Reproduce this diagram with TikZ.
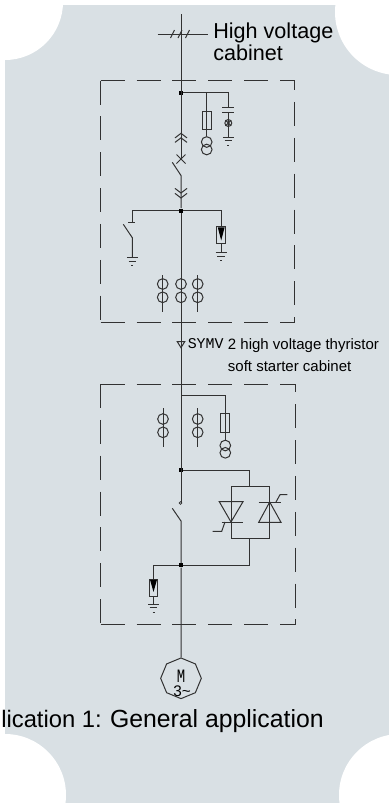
\documentclass[tikz,border=0pt]{standalone}
\usepackage{fontspec}
\setmainfont{Liberation Sans}
\newfontfamily\symvfont{Liberation Mono}
\usetikzlibrary{shapes.geometric}
\definecolor{panel}{RGB}{217,224,228}
\definecolor{wire}{RGB}{50,50,50}
\newcommand{\earth}[1]{\draw[wire] (#1) ++(-5.5,0) -- ++(11,0) (#1) ++(-3.8,3.9) -- ++(7.6,0) (#1) ++(-1,8) -- ++(2,0);}
\begin{document}
\begin{tikzpicture}
[
x=0.75pt, y=-0.75pt,
wire/.style={draw=wire, line width=0.75pt},
boxdash/.style={draw=wire, line width=0.75pt, dash pattern=on 18pt off 8.9pt},
dot/.style={rectangle, fill=black, inner sep=0pt, minimum size=3pt},
fuse/.style={rectangle, draw=wire, line width=0.75pt, inner sep=0pt, minimum width=7pt, minimum height=14pt},
arrester/.style={rectangle, draw=wire, line width=0.75pt, inner sep=0pt, minimum width=6.6pt, minimum height=12.5pt},
ring/.style={circle, draw=wire, line width=0.75pt, inner sep=0pt, minimum size=8pt},
label/.style={inner sep=0pt, anchor=base west, text=black}
]
\useasboundingbox (0,0) rectangle (389,804);

% panel
\begin{scope}
\clip (0,0) rectangle (389,804);
\fill[panel] (5,5) rectangle (389,803);
\fill[white] (5,2) circle (58) (398,12) circle (63) (5,795) circle (61) (400,795) circle (61);
\end{scope}

% incoming line
\coordinate (top) at (181,14);
\coordinate (busl) at (157.5,34);
\coordinate (busr) at (207.5,34);
\coordinate (cross) at (181,159);
\node[dot] (j1) at (181,92.5) {};
\node[dot] (j2) at (181,210.5) {};
\draw[wire] (busl) -- (busr);
\draw[wire] (top) -- (cross);
\foreach \x in {172.5,180,187.5}
	\draw[wire] (\x,34) ++(-2,4) -- ++(4,-8);
\node[label, align=left, font=\fontsize{16.2}{16.5}\selectfont] (hv) at (213,60) {High voltage\\cabinet};

% first cabinet
\coordinate (atl) at (100.7,80.5);
\coordinate (atr) at (294.5,80.5);
\coordinate (abr) at (294.5,322);
\coordinate (abl) at (100.7,322);
\draw[boxdash] (atl) -- (atr) -- (abr);
\draw[boxdash] (atl) -- (abl);
\draw[boxdash] (abl) -- (abr);

\foreach \y in {133.3,137.8}
	\draw[wire] (181,\y) ++(-6,4.6) -- ++(6,-4.6) -- ++(6,4.6);
\draw[wire] (cross) ++(-4.5,-4.5) -- ++(9,9) (cross) ++(-4.5,4.5) -- ++(9,-9);
\coordinate (bladea) at (172.3,162.3);
\coordinate (bladeb) at (181,175.5);
\draw[wire] (bladea) -- (bladeb) -- (j2);
\foreach \y in {193,198}
	\draw[wire] (181,\y) ++(-6,-4.6) -- ++(6,4.6) -- ++(6,-4.6);

\node[fuse] (fa) at (206.7,120.5) {};
\node[ring] (ta) at (206.7,142) {};
\node[ring] (tb) at (206.7,149.5) {};
\coordinate (capj) at (228.3,92.5);
\coordinate (capa) at (228.3,107);
\coordinate (capb) at (228.3,112);
\coordinate (ea) at (228.3,137);
\node[circle, draw=wire, line width=0.75pt, inner sep=0pt, minimum size=5.2pt] (lamp) at (228.3,123) {};
\draw[wire] (j1) -- (capj) -- (capa);
\draw[wire] (capb) -- (ea);
\draw[wire] (capa) ++(-6,0) -- ++(12,0) (capb) ++(-6,0) -- ++(12,0);
\draw[wire] (lamp.north west) -- (lamp.south east) (lamp.north east) -- (lamp.south west);
\earth{ea}
\draw[wire] (206.7,92.5) -- (ta.north);

% earthing switch
\coordinate (sa) at (132.3,222);
\coordinate (sb) at (123.3,224.3);
\coordinate (sc) at (132.3,237.7);
\coordinate (eb) at (132.3,257.3);
\draw[wire] (j2) -| (sa);
\draw[wire] (sa) ++(-4,0) -- ++(7,0);
\draw[wire] (sb) -- (sc) -- (eb);
\earth{eb}

% surge arrester
\node[arrester] (ra) at (221.2,235.3) {};
\coordinate (ec) at (221.2,252.7);
\draw[wire] (j2) -| (ra.north);
\draw[wire] (ra.south) -- (ec);
\fill[black] (ra.north) ++(-3.4,1) -- ++(6.8,0) -- ++(-3.4,13) -- cycle;
\earth{ec}

\foreach \x/\n in {162.7/a, 181/b, 197.7/c}{
	\node[ring] (cu\n) at (\x,284) {};
	\node[ring] (cl\n) at (\x,297.3) {};
	\draw[wire] (\x,275) -- (\x,311.7);
}

% feeder
\node[dot] (j3) at (181,470.3) {};
\node[dot] (j4) at (181,565.3) {};
\coordinate (kb) at (181,502.5);
\draw[wire] (j2) -- (kb);
\node[draw=wire, line width=0.5pt, inner sep=0pt, minimum size=2pt, circle] (kc) at (180.5,503) {};
\node[regular polygon, regular polygon sides=8, shape border rotate=22.5, draw=wire, line width=0.75pt, inner sep=0pt, minimum size=30.5pt] (motor) at (181,678.3) {};
\coordinate (kd) at (172.3,508.3);
\coordinate (ke) at (181,521);
\draw[wire] (kd) -- (ke) -- (j4) -- (motor.north);
\draw[wire] (181,341.7) ++(-3.7,0) -- ++(7.4,0) -- ++(-3.7,6) -- cycle;
\node[label, font=\symvfont\fontsize{11.2}{12}\selectfont] (symv) at (187.5,348) {SYMV};
\node[label, align=left, font=\fontsize{11.25}{16.5}\selectfont] (soft) at (227.7,371) {2 high voltage thyristor\\soft starter cabinet};

% second cabinet
\coordinate (btl) at (100.7,384);
\coordinate (btr) at (295.7,384);
\coordinate (bbr) at (295.7,624.7);
\coordinate (bbl) at (100.7,624.7);
\draw[boxdash] (btl) -- (btr) -- (bbr);
\draw[boxdash] (btl) -- (bbl);
\draw[boxdash] (bbl) -- (bbr);

\coordinate (pa) at (181,395.7);
\node[fuse] (fb) at (225.3,423.3) {};
\node[ring] (tc) at (225.3,445.5) {};
\node[ring] (td) at (225.3,452.8) {};
\draw[wire] (pa) -| (tc.north);
\foreach \x/\n in {163/d, 197.7/e}{
	\node[ring] (cu\n) at (\x,419) {};
	\node[ring] (cl\n) at (\x,432.3) {};
	\draw[wire] (\x,408.3) -- (\x,447);
}

% thyristors
\coordinate (th) at (249.7,486.7);
\coordinate (tf) at (249.7,538.3);
\coordinate (ntl) at (231,486.7);
\coordinate (ntr) at (269.7,486.7);
\coordinate (nbr) at (269.7,538.3);
\coordinate (nbl) at (231,538.3);
\draw[wire] (j3) -| (th);
\draw[wire] (j4) -| (tf);
\draw[wire] (ntl) -- (ntr) -- (nbr) -- (nbl) -- cycle;
\draw[wire] (219.3,501.7) -- (243,501.7) -- (231,522) -- cycle;
\draw[wire] (221.7,522) -- (242.7,522);
\draw[wire] (225,522) -- (221.7,531.3) -- (212.7,531.3);
\draw[wire] (258.7,522.3) -- (281,522.3) -- (269.7,502) -- cycle;
\draw[wire] (258.7,502) -- (281,502);
\draw[wire] (276,502) -- (280,494.7) -- (287.3,494.7);

% lower surge arrester
\node[arrester] (rb) at (153.5,587.8) {};
\coordinate (ed) at (153.5,604);
\draw[wire] (j4) -| (rb.north);
\draw[wire] (rb.south) -- (ed);
\fill[black] (rb.north) ++(-3.4,1) -- ++(6.8,0) -- ++(-3.4,12) -- cycle;
\earth{ed}

% motor
\node[inner sep=0pt, font=\symvfont\fontsize{10.5}{12}\selectfont] (m) at (181,675.8) {\scalebox{1}[1.35]{M}};
\node[inner sep=0pt, font=\fontsize{11.5}{12}\selectfont] (mt) at (182,691.2) {3\char`\~};

\node[label, anchor=base east, font=\fontsize{18.6}{20}\selectfont] (caption) at (324,727) {{\fontsize{17.85}{20}\selectfont lication 1:}\hspace{6.15pt}General application};
\end{tikzpicture}
\end{document}
